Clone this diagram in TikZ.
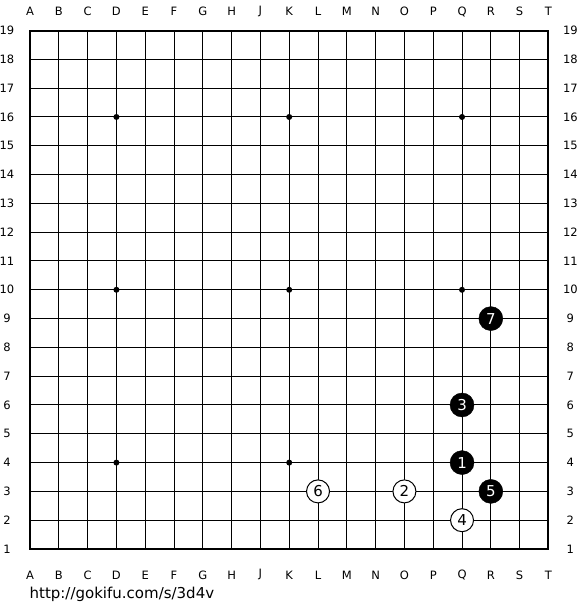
\documentclass[tikz,border=0pt]{standalone}
\usepackage{fontspec}
\setmainfont{DejaVu Sans}
\tikzset{
  blackstone/.style={circle, fill=black, draw=black, inner sep=0pt, minimum size=24pt, text=white, font=\fontsize{15}{15}\selectfont},
  whitestone/.style={circle, fill=white, draw=black, line width=1pt, inner sep=0pt, minimum size=23pt, text=black, font=\fontsize{15}{15}\selectfont},
  coordlabel/.style={font=\fontsize{11.5}{11.5}\selectfont}
}
\begin{document}
\begin{tikzpicture}[x=28.8pt, y=28.8pt]
\useasboundingbox (-1.042,-2.118) rectangle (19.097,19.062);
\fill[white] (-1.042,-2.118) rectangle (19.097,19.062);
% grid
\foreach \i in {1,...,17} {
  \draw[line width=1pt] (\i,0) -- (\i,18);
  \draw[line width=1pt] (0,\i) -- (18,\i);
}
\draw[line width=2pt] (0,0) rectangle (18,18);
% hoshi
\foreach \x in {3,9,15} {
  \foreach \y in {3,9,15} {
    \fill (\x,\y) circle (3pt);
  }
}
% coordinates
\foreach \c [count=\n from 0] in {A,B,C,D,E,F,G,H,J,K,L,M,N,O,P,Q,R,S,T} {
  \node[coordlabel] (top\c) at (\n,18.66) {\c};
  \node[coordlabel] (bot\c) at (\n,-0.9) {\c};
}
\foreach \r in {1,...,19} {
  \node[coordlabel] (left\r) at (-0.8,\r-1) {\r};
  \node[coordlabel] (right\r) at (18.76,\r-1) {\r};
}
% moves
\node[blackstone] (m1) at (15,3) {1};
\node[whitestone] (m2) at (13,2) {2};
\node[blackstone] (m3) at (15,5) {3};
\node[whitestone] (m4) at (15,1) {4};
\node[blackstone] (m5) at (16,2) {5};
\node[whitestone] (m6) at (10,2) {6};
\node[blackstone] (m7) at (16,8) {7};
\node[anchor=west, inner sep=0pt, font=\fontsize{15}{15}\selectfont] (url) at (-0.02,-1.56) {http://gokifu.com/s/3d4v};
\end{tikzpicture}
\end{document}
